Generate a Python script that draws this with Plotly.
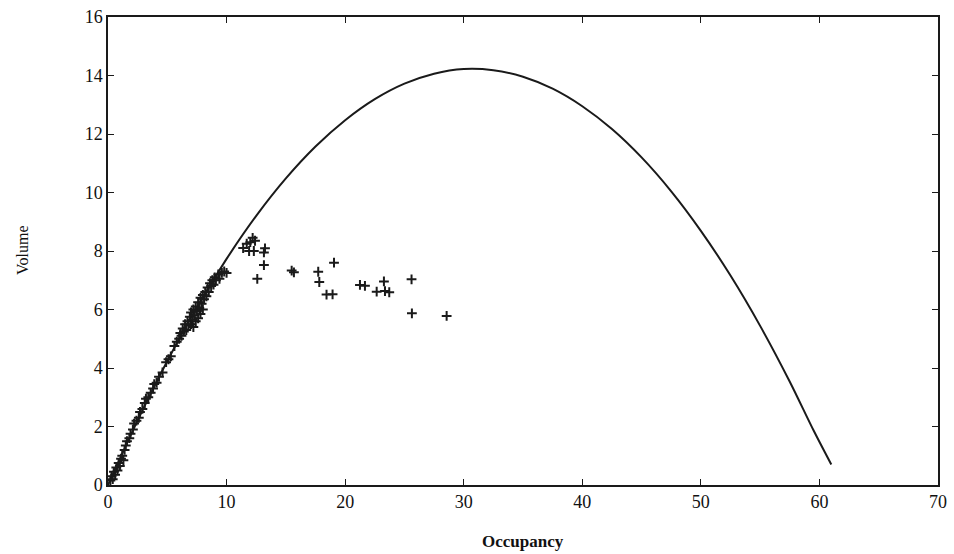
import plotly.graph_objects as go

# Fitted flow-occupancy curve
curve_occ = [0, 2.5, 5, 7.5, 10, 12.5, 15, 17.5, 20, 22.5, 25, 27.5, 30, 32.5, 35, 37.5,
             40, 42.5, 45, 47.5, 50, 52.5, 55, 57.5, 59.5, 61]
curve_vol = [0, 2.21, 4.24, 6.08, 7.73, 9.2, 10.48, 11.57, 12.47, 13.19, 13.72, 14.06, 14.22,
             14.18, 13.96, 13.55, 12.95, 12.17, 11.2, 10.04, 8.69, 7.16, 5.44, 3.53, 1.87, 0.7]

obs_occ = [0.2, 0.3, 0.4, 0.5, 0.6, 0.7, 0.8, 0.9, 1.0, 1.1, 1.2, 1.3, 1.4, 1.5, 1.6, 1.8,
           1.9, 2.1, 2.2, 2.4, 2.6, 2.7, 2.9, 3.1, 3.2, 3.4, 3.6, 3.8, 3.9, 4.1, 4.3, 4.6,
           4.9, 5.1, 5.3, 5.6, 5.8, 6.0, 6.1, 6.2, 6.3, 6.4, 6.5, 6.6, 6.7, 6.8, 6.9, 7.0,
           7.0, 7.1, 7.2, 7.2, 7.3, 7.4, 7.4, 7.5, 7.6, 7.6, 7.7, 7.8, 7.8, 7.9, 8.0, 8.0,
           8.1, 8.2, 8.3, 8.4, 8.5, 8.6, 8.7, 8.8, 8.9, 9.0, 9.1, 9.3, 9.4, 9.6, 9.8, 10.0,
           11.4, 11.7, 11.9, 12.0, 12.2, 12.4, 12.3,
           13.24, 13.15, 13.15, 12.59, 15.49, 15.68, 17.73, 17.82, 19.06, 18.43, 18.94,
           21.25, 21.67, 23.27, 22.66, 23.36, 23.72, 25.6, 25.63, 28.56]
obs_vol = [0.15, 0.3, 0.2, 0.45, 0.35, 0.6, 0.5, 0.75, 0.65, 0.9, 1.0, 0.85, 1.2, 1.35, 1.5, 1.6,
           1.75, 1.9, 2.1, 2.2, 2.3, 2.5, 2.6, 2.8, 2.95, 3.0, 3.15, 3.3, 3.45, 3.5, 3.7, 3.85,
           4.2, 4.3, 4.4, 4.75, 4.9, 5.0, 5.2, 5.1, 5.35, 5.25, 5.5, 5.3, 5.6, 5.45, 5.75, 5.5,
           5.9, 5.65, 6.0, 5.4, 5.8, 6.1, 5.6, 5.95, 6.25, 5.7, 6.05, 6.4, 5.85, 6.2, 6.5, 6.0,
           6.35, 6.6, 6.45, 6.75, 6.6, 6.9, 6.8, 7.0, 6.85, 7.1, 7.0, 7.2, 7.05, 7.25, 7.3, 7.25,
           8.1, 8.25, 8.0, 8.3, 8.45, 8.35, 8.0,
           8.09, 7.95, 7.52, 7.05, 7.33, 7.27, 7.29, 6.94, 7.60, 6.51, 6.52,
           6.84, 6.81, 6.96, 6.61, 6.63, 6.59, 7.03, 5.87, 5.78]

x_ticks = [0, 10, 20, 30, 40, 50, 60, 70]
y_ticks = [0, 2, 4, 6, 8, 10, 12, 14, 16]
x_title = "Occupancy"
y_title = "Volume"

fig = go.Figure()
fig.add_trace(go.Scatter(x=curve_occ, y=curve_vol, mode="lines",
                         line=dict(color="#1a1a1a", width=2, shape="spline", smoothing=0.8),
                         showlegend=False))
fig.add_trace(go.Scatter(x=obs_occ, y=obs_vol, mode="markers", showlegend=False,
                         marker=dict(symbol="cross-thin", size=7,
                                     line=dict(color="#1a1a1a", width=2))))

fam = "Liberation Serif, DejaVu Serif, serif"
font = dict(family=fam, color="#111", size=18)
axis_common = dict(showline=True, linecolor="#1a1a1a", linewidth=1.5, mirror="allticks",
                   ticks="inside", ticklen=6, tickwidth=1.3, tickcolor="#1a1a1a",
                   showgrid=False, zeroline=False, tickfont=font, automargin=False)

fig.update_xaxes(range=[0, 70], tickvals=x_ticks, ticktext=[str(v) for v in x_ticks],
                 **axis_common)
fig.update_yaxes(range=[0, 16], tickvals=y_ticks, ticktext=[str(v) for v in y_ticks],
                 **axis_common)
fig.add_annotation(text="<b>" + x_title + "</b>", xref="paper", yref="paper", x=0.5, y=0,
                   yshift=-56, xanchor="center", yanchor="middle", showarrow=False,
                   font=dict(family=fam, size=17, color="#111"))
fig.add_annotation(text=y_title, xref="paper", yref="paper", x=0, y=0.5, xshift=-86,
                   xanchor="center", yanchor="middle", textangle=-90, showarrow=False,
                   font=dict(family=fam, size=16, color="#111"))
fig.update_layout(width=954, height=554, margin=dict(l=108, r=16, t=17, b=69),
                  plot_bgcolor="white", paper_bgcolor="white", font=font)
fig.write_html("out.html")
